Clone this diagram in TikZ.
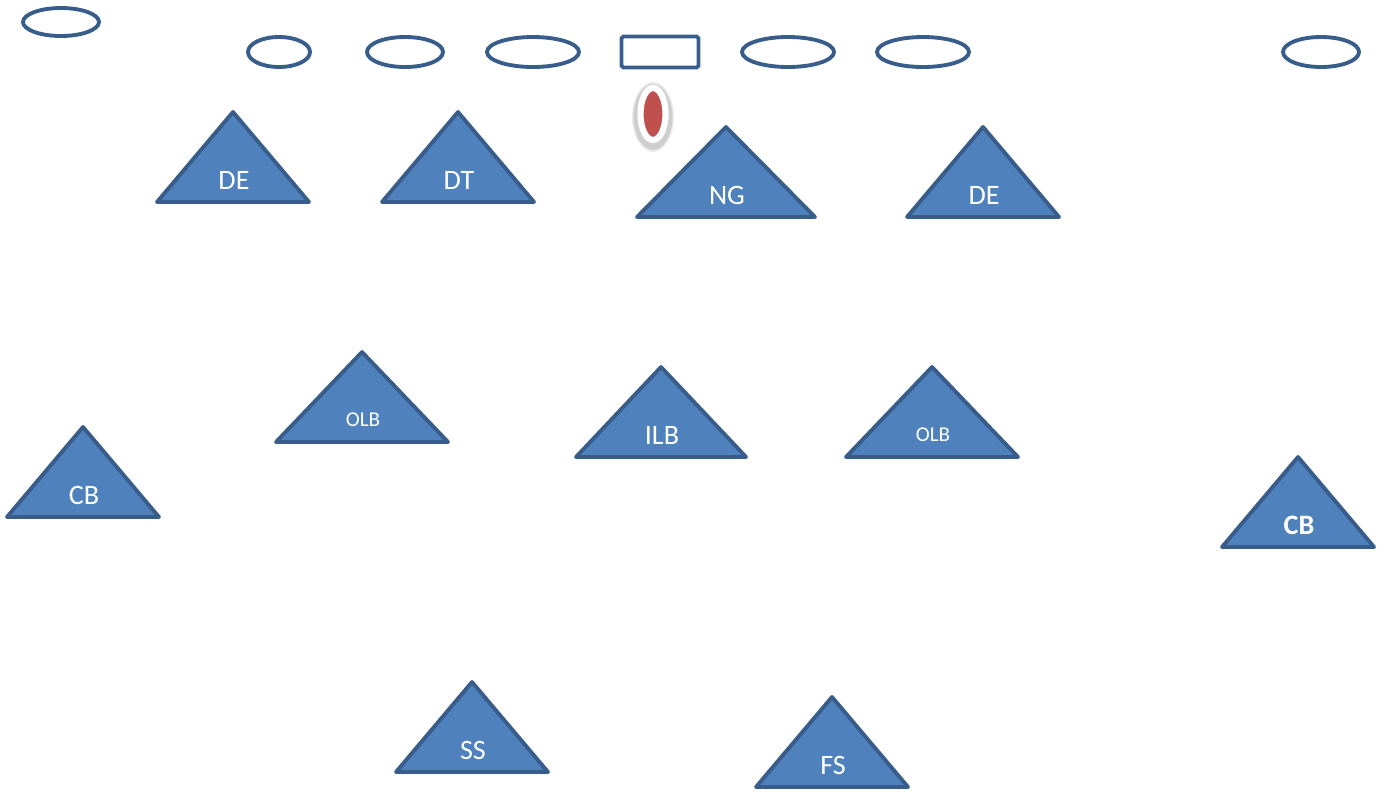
\documentclass[tikz,border=0pt]{standalone}
\usepackage{fontspec}
\setmainfont{Carlito}
\usepackage{xcolor}
\usetikzlibrary{shapes.geometric}

\definecolor{playerfill}{HTML}{4F81BD}
\definecolor{playerline}{HTML}{385D8A}
\definecolor{ballred}{HTML}{C0504D}

% defender: name, apex x, apex y, half base width, label style, text
\newcommand{\player}[6]{%
  \draw[defender] (#2,#3) -- (#2-#4,#3+90) -- (#2+#4,#3+90) -- cycle;
  \node[#5] (#1) at (#2+1,#3+68) {#6};
}

\begin{document}
\begin{tikzpicture}[x=0.02cm, y=-0.02cm]
    % Define styles
    \tikzstyle{defender} = [draw=playerline, fill=playerfill, line width=2.2pt, line join=round]
    \tikzstyle{tag} = [text=white, font=\fontsize{16}{18}\selectfont, inner sep=0pt]
    \tikzstyle{smalltag} = [text=white, font=\fontsize{12}{14}\selectfont, inner sep=0pt]
    \tikzstyle{boldtag} = [text=white, font=\fontsize{16}{18}\selectfont\bfseries, inner sep=0pt]
    \tikzstyle{offense} = [ellipse, draw=playerline, line width=2.2pt, inner sep=0pt, minimum height=0.6cm]
    \tikzstyle{snapper} = [rectangle, draw=playerline, line width=2.2pt, inner sep=0pt, minimum width=1.54cm, minimum height=0.62cm, rounded corners=1pt]

    \useasboundingbox (0,0) rectangle (1385,792);

    % Offense
    \node[offense, minimum width=1.52cm, minimum height=0.56cm] (wideL) at (61,22) {};
    \node[offense, minimum width=1.24cm] (tackleL) at (279,52) {};
    \node[offense, minimum width=1.52cm] (guardL) at (405,52) {};
    \node[offense, minimum width=1.84cm] (guardLi) at (533,52) {};
    \node[snapper] (center) at (660,52) {};
    \node[offense, minimum width=1.84cm] (guardR) at (788,52) {};
    \node[offense, minimum width=1.84cm] (tackleR) at (923,52) {};
    \node[offense, minimum width=1.52cm] (wideR) at (1321,52) {};

    % Football with soft shadow
    \fill[black, opacity=0.08] (653,117) ellipse [x radius=21, y radius=35];
    \fill[black, opacity=0.12] (653,117) ellipse [x radius=19.5, y radius=33];
    \node[ellipse, fill=ballred, draw=white, line width=3.5pt, minimum width=0.5cm, minimum height=1.04cm, inner sep=0pt] (ball) at (653,114) {};

    % Defensive line
    \player{endL}{233}{112}{76}{tag}{DE}
    \player{tackle}{458}{112}{76}{tag}{DT}
    \player{nose}{726}{127}{89}{tag}{NG}
    \player{endR}{983}{127}{76}{tag}{DE}

    % Linebackers
    \player{olbL}{362}{352}{86}{smalltag}{OLB}
    \player{ilb}{661}{367}{85}{tag}{ILB}
    \player{olbR}{932}{367}{86}{smalltag}{OLB}

    % Secondary
    \player{cornerL}{83}{427}{76}{tag}{CB}
    \player{cornerR}{1298}{457}{76}{boldtag}{CB}
    \player{strong}{472}{682}{76}{tag}{SS}
    \player{free}{832}{697}{76}{tag}{FS}

\end{tikzpicture}
\end{document}
